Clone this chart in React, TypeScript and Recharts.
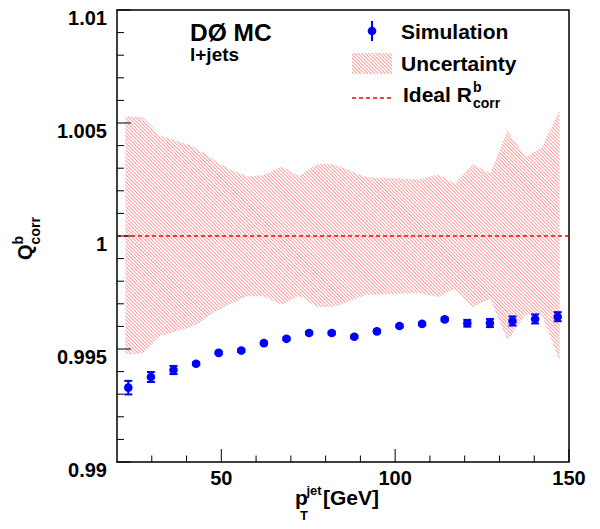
import React from "react";
import {
  ComposedChart,
  Area,
  Scatter,
  ErrorBar,
  XAxis,
  YAxis,
  ReferenceLine,
  ReferenceArea,
} from "recharts";

// simulation points (bin centres, 6.5 GeV bins from 20 to 150)
const simX = [
  23.25, 29.75, 36.25, 42.75, 49.25, 55.75, 62.25, 68.75, 75.25, 81.75,
  88.25, 94.75, 101.25, 107.75, 114.25, 120.75, 127.25, 133.75, 140.25, 146.75,
];
const simY = [
  0.99329, 0.99376, 0.99407, 0.99435, 0.99483, 0.99493, 0.99526, 0.99545, 0.99571, 0.99571,
  0.99554, 0.99578, 0.99602, 0.99611, 0.99631, 0.99614, 0.99615, 0.99624, 0.99633, 0.99643,
];
const simErr = [
  0.0003, 0.00022, 0.00018, 0.00006, 0.00006, 0.00006, 0.00006, 0.00006, 0.00006, 0.00006,
  0.00006, 0.00006, 0.00006, 0.00006, 0.00006, 0.00015, 0.00018, 0.0002, 0.0002, 0.0002,
];

// uncertainty band outline
const bandX = [
  22.4, 27.4, 32.4, 35.3, 41, 43.4, 46.8, 48.7, 52.2, 57.3, 62, 67.5, 72.3,
  77.4, 81.2, 84.1, 91.5, 107, 112.3, 117.2, 122.3, 127.3, 132.3, 137.6, 142.2, 147.3,
];
const bandHi = [
  1.00529, 1.00526, 1.00445, 1.0043, 1.00401, 1.00382, 1.0035, 1.00327, 1.00296, 1.00264, 1.00269, 1.00308, 1.00264,
  1.00317, 1.0032, 1.00308, 1.00261, 1.0025, 1.00272, 1.00232, 1.00317, 1.00276, 1.00467, 1.00349, 1.00393, 1.00558,
];
const bandLo = [
  0.99476, 0.9948, 0.99559, 0.9957, 0.99595, 0.99612, 0.99652, 0.99668, 0.99697, 0.99733, 0.99733, 0.99696, 0.99736,
  0.99686, 0.99686, 0.99695, 0.9974, 0.99748, 0.9973, 0.99765, 0.99686, 0.99721, 0.99539, 0.99652, 0.99652, 0.99446,
];

const xTicks = [30, 40, 50, 60, 70, 80, 90, 100, 110, 120, 130, 140, 150];
const xMajor = [50, 100, 150];
const yTicks = [
  0.99, 0.991, 0.992, 0.993, 0.994, 0.995, 0.996, 0.997, 0.998, 0.999, 1,
  1.001, 1.002, 1.003, 1.004, 1.005, 1.006, 1.007, 1.008, 1.009, 1.01,
];
const yMajor = [0.99, 0.995, 1, 1.005, 1.01];

const FONT = "'Liberation Sans', Arial, Helvetica, sans-serif";

const bandData = bandX.map((x, i) => ({ x, lo: bandLo[i], hi: bandHi[i] }));
const simData = simX.map((x, i) => ({ x, y: simY[i], err: simErr[i] }));

const YTick = ({ x, y, payload }: any) => {
  const major = yMajor.includes(payload.value);
  return (
    <g>
      <line x1={x} x2={x + (major ? 14 : 7)} y1={y} y2={y} stroke="#000" strokeWidth={1} />
      {major && (
        <text
          x={x - 10}
          y={y + 7.5}
          textAnchor="end"
          dominantBaseline="central"
          fontFamily={FONT}
          fontWeight="bold"
          fontSize={20}
          fill="#000"
        >
          {String(payload.value)}
        </text>
      )}
    </g>
  );
};

const XTick = ({ x, y, payload }: any) => {
  const major = xMajor.includes(payload.value);
  return (
    <g>
      <line x1={x} x2={x} y1={y} y2={y - (major ? 13 : 6.5)} stroke="#000" strokeWidth={1} />
      {major && (
        <text
          x={x}
          y={y + 23}
          textAnchor="middle"
          fontFamily={FONT}
          fontWeight="bold"
          fontSize={20}
          fill="#000"
        >
          {payload.value}
        </text>
      )}
    </g>
  );
};

const Dot = ({ cx, cy }: any) => <circle cx={cx} cy={cy} r={4.3} fill="#0000ff" />;

export default function App() {
  return (
    <div style={{ position: "absolute", left: 0, top: 0, width: 600, height: 529, background: "#fff" }}>
      <svg width={0} height={0} style={{ position: "absolute" }}>
        <defs>
          <pattern id="hatch" patternUnits="userSpaceOnUse" width={2.5} height={2.5} patternTransform="rotate(-45)">
            <line x1={0} y1={0} x2={0} y2={2.5} stroke="#ff5555" strokeWidth={1.1} />
          </pattern>
        </defs>
      </svg>
      <ComposedChart
        width={600}
        height={529}
        data={bandData}
        margin={{ top: 10, right: 31, left: 0, bottom: 0 }}
      >
        <XAxis
          dataKey="x"
          type="number"
          domain={[20, 150]}
          allowDataOverflow
          ticks={xTicks}
          interval={0}
          height={67}
          tickSize={0}
          tickMargin={0}
          axisLine={false}
          tickLine={false}
          tick={<XTick />}
        />
        <YAxis
          type="number"
          domain={[0.99, 1.01]}
          allowDataOverflow
          ticks={yTicks}
          interval={0}
          width={117}
          tickSize={0}
          tickMargin={0}
          axisLine={false}
          tickLine={false}
          tick={<YTick />}
        />
        <Area
          type="linear"
          dataKey={(d: any) => [d.lo, d.hi]}
          stroke="none"
          fill="url(#hatch)"
          fillOpacity={1}
          isAnimationActive={false}
          dot={false}
          activeDot={false}
        />
        <ReferenceLine y={1} stroke="#ff0000" strokeWidth={1.5} strokeDasharray="4 3" />
        <Scatter data={simData} dataKey="y" shape={<Dot />} isAnimationActive={false}>
          <ErrorBar dataKey="err" direction="y" width={4} stroke="#0000ff" strokeWidth={2} />
        </Scatter>
        <ReferenceArea x1={20} x2={150} y1={0.99} y2={1.01} fill="none" stroke="#000" strokeWidth={1.5} />
      </ComposedChart>

      <svg
        width={600}
        height={529}
        style={{ position: "absolute", left: 0, top: 0, pointerEvents: "none" }}
        fontFamily={FONT}
        fontWeight="bold"
      >
        <text x={190} y={41} fontSize={24.5}>DØ MC</text>
        <text x={190} y={61} fontSize={19}>l+jets</text>

        {/* legend */}
        <line x1={372} x2={372} y1={21} y2={41} stroke="#0000ff" strokeWidth={2} />
        <circle cx={372} cy={31} r={4.3} fill="#0000ff" />
        <text x={401} y={39} fontSize={21}>Simulation</text>
        <rect x={352} y={53} width={40} height={21} fill="url(#hatch)" />
        <text x={401} y={71} fontSize={21}>Uncertainty</text>
        <line x1={352} x2={392} y1={98} y2={98} stroke="#ff0000" strokeWidth={1.5} strokeDasharray="4 3" />
        <text x={403} y={102} fontSize={21}>
          Ideal R
          <tspan x={473} dy={-10} fontSize={14}>b</tspan>
          <tspan x={473} dy={16} fontSize={14}>corr</tspan>
        </text>

        {/* y axis title */}
        <text x={32} y={260} fontSize={20} transform="rotate(-90 32 260)">
          Q
          <tspan x={47.6} dy={-9} fontSize={14}>b</tspan>
          <tspan x={47.6} dy={17} fontSize={14}>corr</tspan>
        </text>

        {/* x axis title */}
        <text x={295} y={505} fontSize={21}>p</text>
        <text x={306.5} y={495} fontSize={13}>jet</text>
        <text x={300} y={520} fontSize={13}>T</text>
        <text x={323} y={505} fontSize={21}>[GeV]</text>
      </svg>
    </div>
  );
}
